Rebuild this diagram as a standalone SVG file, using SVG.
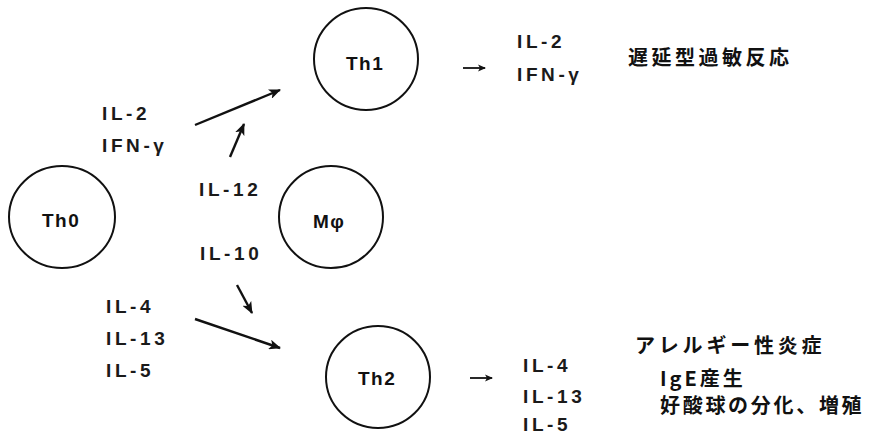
<svg xmlns="http://www.w3.org/2000/svg" width="874" height="435" viewBox="0 0 874 435">
<style>
.node{fill:none;stroke:#111;stroke-width:2}
.lbl{font-family:"Liberation Sans","DejaVu Sans",sans-serif;font-weight:bold;font-size:19px;fill:#111;letter-spacing:1.5px}
.ck{font-family:"Liberation Sans","DejaVu Sans",sans-serif;font-weight:bold;font-size:19px;fill:#1a1a1a;letter-spacing:3.6px}
.jp{font-family:"Noto Sans CJK JP",sans-serif;font-weight:bold;font-size:20px;fill:#111}
.conn{stroke:#111;stroke-width:2.4;fill:none}
.small{stroke:#111;stroke-width:1.8;fill:none}
</style>
<defs>
<marker id="ah" viewBox="0 0 12 10" refX="11" refY="5" markerWidth="12" markerHeight="10" markerUnits="userSpaceOnUse" orient="auto">
<path d="M0,0 L12,5 L0,10 L3,5 Z" fill="#111"/>
</marker>
<marker id="ahs" viewBox="0 0 8 8" refX="7" refY="4" markerWidth="8" markerHeight="8" markerUnits="userSpaceOnUse" orient="auto">
<path d="M0,0.5 L8,4 L0,7.5 L2,4 Z" fill="#111"/>
</marker>
</defs>
<rect width="874" height="435" fill="#fff"/>
<g id="th0"><ellipse class="node" cx="62" cy="217" rx="53" ry="51"/><text class="lbl" x="42" y="227">Th0</text></g>
<g id="th1"><ellipse class="node" cx="366" cy="59" rx="52" ry="51"/><text class="lbl" x="346" y="70">Th1</text></g>
<g id="mphi"><ellipse class="node" cx="331" cy="217" rx="52" ry="51"/><text class="lbl" x="313" y="228">Mφ</text></g>
<g id="th2"><ellipse class="node" cx="378" cy="377" rx="52" ry="51"/><text class="lbl" x="358" y="385">Th2</text></g>
<g id="connectors">
<line class="conn" x1="195" y1="125" x2="280" y2="90" marker-end="url(#ah)"/>
<line class="conn" x1="230" y1="157" x2="244" y2="124" marker-end="url(#ah)"/>
<line class="conn" x1="237" y1="285" x2="252" y2="313" marker-end="url(#ah)"/>
<line class="conn" x1="195" y1="319" x2="280" y2="348" marker-end="url(#ah)"/>
<line class="small" x1="463" y1="68" x2="485" y2="68" marker-end="url(#ahs)"/>
<line class="small" x1="470" y1="378" x2="492" y2="378" marker-end="url(#ahs)"/>
</g>
<g id="labels">
<text class="ck" x="102" y="120">IL-2</text>
<text class="ck" x="102" y="152">IFN-γ</text>
<text class="ck" x="199" y="196">IL-12</text>
<text class="ck" x="200" y="260">IL-10</text>
<text class="ck" x="106" y="313">IL-4</text>
<text class="ck" x="106" y="345">IL-13</text>
<text class="ck" x="106" y="377">IL-5</text>
<text class="ck" x="517" y="48">IL-2</text>
<text class="ck" x="517" y="81">IFN-γ</text>
<text class="ck" x="523" y="372">IL-4</text>
<text class="ck" x="523" y="403">IL-13</text>
<text class="ck" x="523" y="431">IL-5</text>
<text class="jp" x="628" y="65" style="letter-spacing:3.5px">遅延型過敏反応</text>
<text class="jp" x="635" y="353" style="letter-spacing:3.8px">アレルギー性炎症</text>
<text class="jp" x="660" y="386" style="letter-spacing:3px">IgE産生</text>
<text class="jp" x="660" y="413" style="letter-spacing:2.7px">好酸球の分化、増殖</text>
</g>
</svg>
